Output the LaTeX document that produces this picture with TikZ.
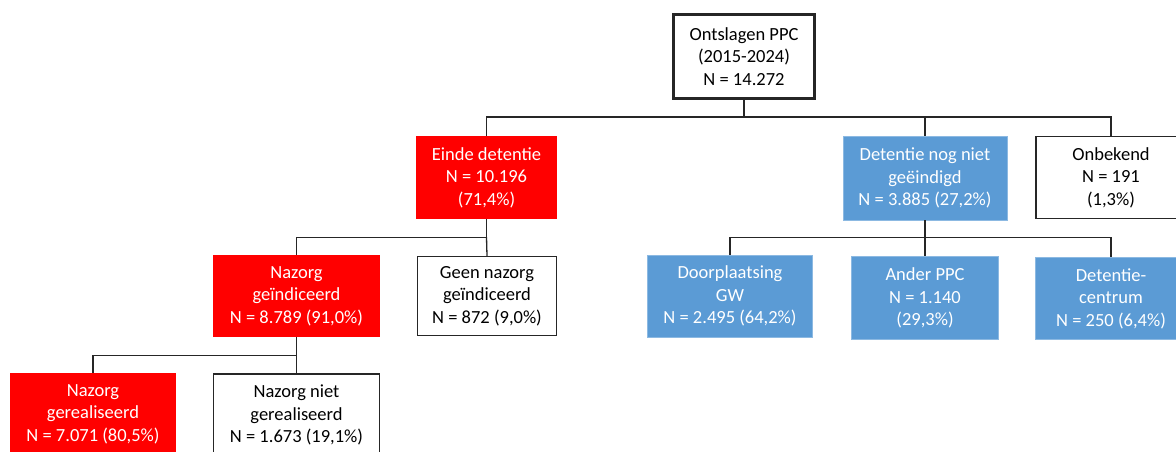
\documentclass[tikz,border=0pt]{standalone}
\usepackage{fontspec}
\setmainfont{Carlito}
\usepackage{tikz}
\usetikzlibrary{positioning, calc}
\definecolor{ppcred}{HTML}{FF0000}
\definecolor{ppcblue}{HTML}{5B9BD5}
\definecolor{ppcline}{HTML}{262626}
\tikzset{
  box/.style={rectangle, align=center, inner sep=0pt,
    font=\fontsize{18.5}{22.5}\selectfont, minimum height=82pt},
  redbox/.style={box, fill=ppcred, text=white},
  bluebox/.style={box, fill=ppcblue, draw=ppcblue!70!white, line width=0.6pt, text=white},
  whitebox/.style={box, fill=white, draw=ppcline, line width=1.3pt, text=black},
  link/.style={draw=ppcline, line width=1.3pt}
}
\begin{document}
\begin{tikzpicture}[x=1pt, y=-1pt]
        \useasboundingbox (0,0) rectangle (1176,451);
        \clip (0,0) rectangle (1176,451);

        % ── ROOT ───────────────────────────────────
        \node[whitebox, line width=3pt, minimum width=141pt, minimum height=84pt]
          (root) at (744,56.5) {Ontslagen PPC\\(2015-2024)\\N = 14.272};

        % ── LEVEL 1 ────────────────────────────────
        \node[redbox, minimum width=141pt, minimum height=83pt]
          (einde) at (486.5,177.5) {Einde detentie\\N = 10.196\\(71,4\%)};
        \node[bluebox, minimum width=164pt, minimum height=84pt]
          (nognietklaar) at (925,178) {Detentie nog niet\\geëindigd\\N = 3.885 (27,2\%)};
        \node[whitebox, minimum width=150pt]
          (onbekend) at (1111,177.5) {Onbekend\\N = 191\\(1,3\%)};

        % ── LEVEL 2 ────────────────────────────────
        \node[redbox, minimum width=167pt]
          (nazorgind) at (296.5,296) {Nazorg\\geïndiceerd\\N = 8.789 (91,0\%)};
        \node[whitebox, minimum width=139pt, minimum height=79pt]
          (geennazorg) at (487,296) {Geen nazorg\\geïndiceerd\\N = 872 (9,0\%)};
        \node[bluebox, minimum width=165pt]
          (doorplaatsing) at (730,296) {Doorplaatsing\\GW\\N = 2.495 (64,2\%)};
        \node[bluebox, minimum width=147pt, minimum height=83pt]
          (anderppc) at (925,298) {Ander PPC\\N = 1.140\\(29,3\%)};
        \node[bluebox, minimum width=152pt]
          (detcentrum) at (1111,298.5) {Detentie-\\centrum\\N = 250 (6,4\%)};

        % ── LEVEL 3 ────────────────────────────────
        \node[redbox, minimum width=166pt]
          (gerealiseerd) at (93,414) {Nazorg\\gerealiseerd\\N = 7.071 (80,5\%)};
        \node[whitebox, minimum width=166pt]
          (nietgerealiseerd) at (296.5,415) {Nazorg niet\\gerealiseerd\\N = 1.673 (19,1\%)};

        % ── CONNECTORS ─────────────────────────────
        \draw[link] (root.south) -- ++(0,17) coordinate (bar1) -| (einde.north);
        \draw[link] (bar1) -| (nognietklaar.north);
        \draw[link] (bar1) -| (onbekend.north);

        \draw[link] (einde.south) -- ++(0,18) coordinate (bar2) -| (nazorgind.north);
        \draw[link] (bar2) -- (geennazorg.north);

        \draw[link] (nognietklaar.south) -- ++(0,17) coordinate (bar3) -| (doorplaatsing.north);
        \draw[link] (bar3) -- (anderppc.north);
        \draw[link] (bar3) -| (detcentrum.north);

        \draw[link] (nazorgind.south) -- ++(0,18) coordinate (bar4) -| (gerealiseerd.north);
        \draw[link] (bar4) -- (nietgerealiseerd.north);
      \end{tikzpicture}
\end{document}
